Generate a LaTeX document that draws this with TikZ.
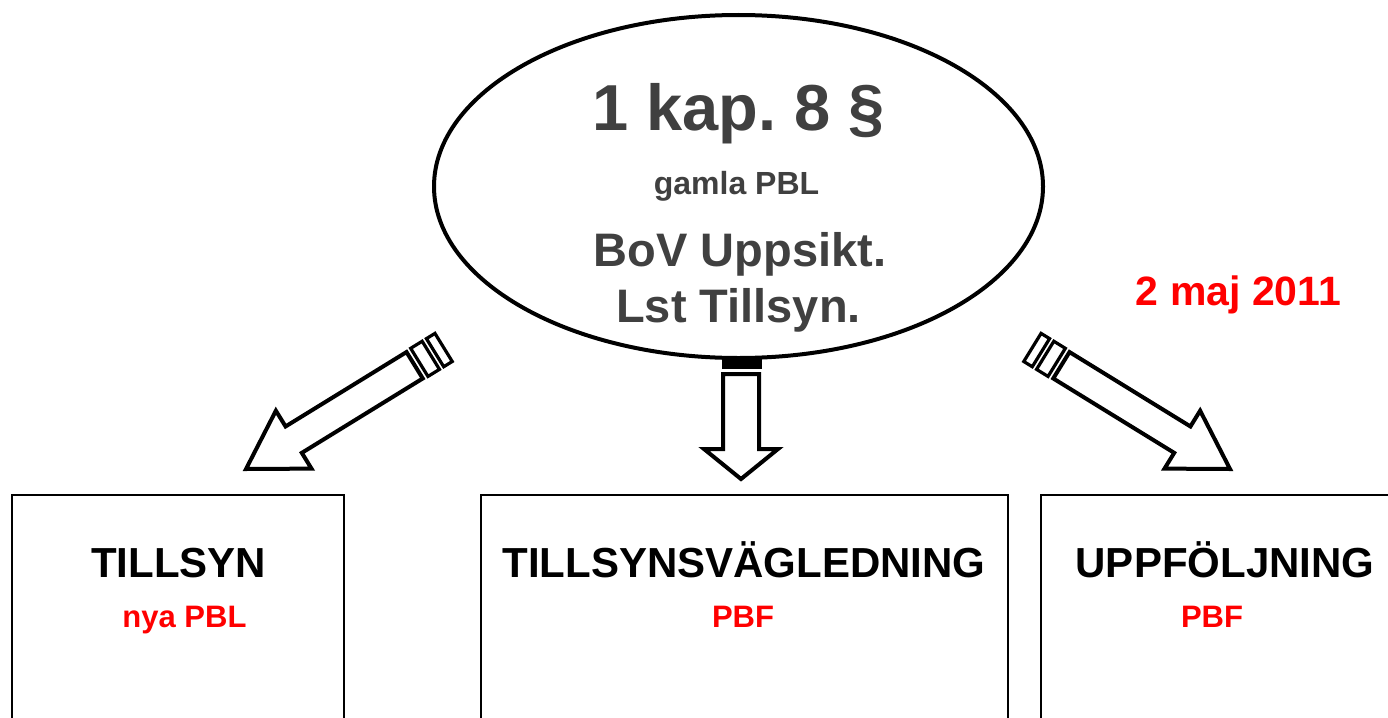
\documentclass[tikz,border=0pt]{standalone}
\usepackage{fontspec}
\setmainfont{Liberation Sans}
\usetikzlibrary{shapes.geometric}
\definecolor{txtgray}{HTML}{404040}
\definecolor{pbred}{HTML}{FF0000}
\frenchspacing
\tikzset{
  arrowline/.style={draw=black, line width=4pt, fill=white, line join=miter},
  stripeline/.style={draw=black, line width=3.2pt, fill=white, line join=miter},
  boxline/.style={draw=black, line width=2pt},
  ovalshape/.style={ellipse, draw=black, line width=4pt, fill=white, inner sep=0pt,
    minimum width=609pt, minimum height=343pt},
  lbl/.style={anchor=base, inner sep=0pt, font=\bfseries},
}
% #1 tip coordinate, #2 angle, #3 head length, #4 head half width, #5 shaft half width, #6 shaft length
\newcommand{\myblockarrow}[6]{%
  \begin{scope}[shift={(#1)}, rotate=#2]
    \draw[arrowline] (0,0) -- (-#3,#4) -- (-#3,#5) -- ({-#3-#6},#5) -- ({-#3-#6},-#5)
      -- (-#3,-#5) -- (-#3,-#4) -- cycle;
  \end{scope}}
\newcommand{\mystripes}[3]{%
  \begin{scope}[shift={(#1)}, rotate=#2]
    \draw[stripeline] ({-#3-5.5},16.5) rectangle ({-#3-19},-16.5);
    \draw[stripeline] ({-#3-24},16.5) rectangle ({-#3-34},-16.5);
  \end{scope}}
\begin{document}
\begin{tikzpicture}[x=1pt, y=-1pt]
\useasboundingbox (0,0) rectangle (1388,717);
\fill[white] (0,0) rectangle (1388,717);

% arrow tips
\coordinate (tipL) at (246,469);
\coordinate (tipR) at (1230,469);
\coordinate (tipM) at (741,479);

% diagonal arrows
\myblockarrow{tipL}{211.6}{56}{34}{15.5}{142}
\mystripes{tipL}{211.6}{198}
\myblockarrow{tipR}{328.4}{56}{34}{15.5}{142}
\mystripes{tipR}{328.4}{198}

% middle arrow
\fill[black] (722,350) rectangle (762,368.5);
\myblockarrow{tipM}{270}{30}{37}{18}{75}

% boxes
\draw[boxline] (12,1200) -- (12,495) -- (344,495) -- (344,1200);
\draw[boxline] (481,1200) -- (481,495) -- (1008,495) -- (1008,1200);
\draw[boxline] (1041,1200) -- (1041,495) -- (1500,495);

% oval
\node[ovalshape] (oval) at (738.5,186.5) {};

% oval texts
\node[lbl, text=txtgray, font=\bfseries\fontsize{65}{70}\selectfont] (kap) at (738.5,130) {1 kap. 8 §};
\node[lbl, text=txtgray, font=\bfseries\fontsize{32}{36}\selectfont] (gamla) at (736.5,194) {gamla PBL};
\node[lbl, text=txtgray, font=\bfseries\fontsize{47}{52}\selectfont] (bov) at (740,266) {BoV Uppsikt.};
\node[lbl, text=txtgray, font=\bfseries\fontsize{47}{52}\selectfont] (lst) at (738.5,322) {Lst Tillsyn.};

% date
\node[lbl, text=pbred, font=\bfseries\fontsize{41}{45}\selectfont] (date) at (1238.5,305) {2 maj 2011};

% box texts
\node[lbl, text=black, font=\bfseries\fontsize{42}{46}\selectfont] (t1) at (178.5,577) {TILLSYN};
\node[lbl, text=pbred, font=\bfseries\fontsize{31}{35}\selectfont] (s1) at (184.5,627) {nya PBL};
\node[lbl, text=black, font=\bfseries\fontsize{42}{46}\selectfont] (t2) at (744,577) {TILLSYNSVÄGLEDNING};
\node[lbl, text=pbred, font=\bfseries\fontsize{31}{35}\selectfont] (s2) at (743,627) {PBF};
\node[lbl, text=black, font=\bfseries\fontsize{42}{46}\selectfont] (t3) at (1225,577) {UPPFÖLJNING};
\node[lbl, text=pbred, font=\bfseries\fontsize{31}{35}\selectfont] (s3) at (1212,627) {PBF};
\end{tikzpicture}
\end{document}
